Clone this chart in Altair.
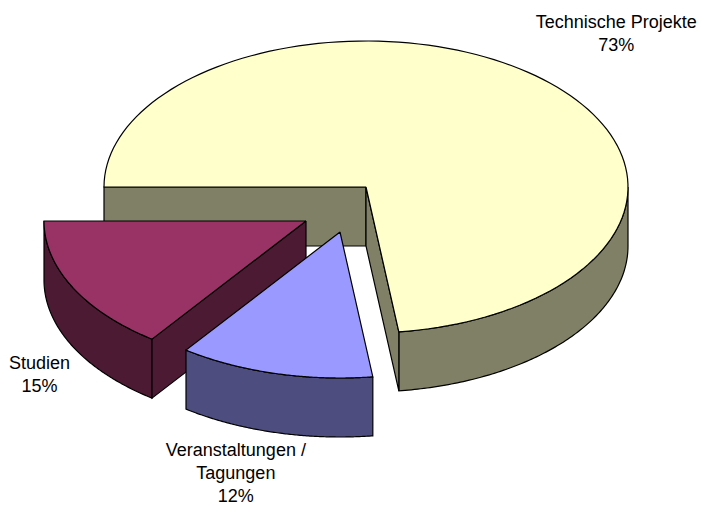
import math
import altair as alt
import numpy as np
import pandas as pd

# ---- data ----
categories = ["Technische Projekte", "Veranstaltungen /\nTagungen", "Studien"]
values = [73, 12, 15]

# ---- style / layout ----
W, H = 692, 502
CX, CY = 358, 179          # centre of the pie's top face
RX, RY = 262, 146          # ellipse semi-axes (tilted view)
DEPTH = 59                 # thickness of the pie
START_DEG = 270            # first slice starts at 9 o'clock, clockwise
TOP_COLORS = ["#FFFFCC", "#9999FF", "#993366"]
SIDE_COLORS = ["#808066", "#4D4D80", "#4D1A33"]
EXPLODE = [(0, 0), (-26, 45), (-60, 34)]
LABEL_SHIFT = [(77, -49), (-39, 83), (-33, 82)]
DRAW_ORDER = [0, 2, 1]
N_ARC = 120

total = float(sum(values))
bounds = []
acc = START_DEG
for v in values:
    span = v / total * 360.0
    bounds.append((acc, acc + span))
    acc += span


def rim(deg, ox, oy, dy=0.0):
    r = math.radians(deg)
    return (CX + ox + RX * math.sin(r), CY + oy - RY * math.cos(r) + dy)


def arc(a0, a1, ox, oy, dy=0.0):
    return [rim(d, ox, oy, dy) for d in np.linspace(a0, a1, N_ARC)]


rows = []
pid = 0
poly_fill = []


def add_poly(pts, fill):
    global pid
    pts = list(pts) + [pts[0]]
    for i, (x, y) in enumerate(pts):
        rows.append({"poly": pid, "i": i, "x": x, "y": y})
    poly_fill.append(fill)
    pid += 1


labels = []
for k in DRAW_ORDER:
    s, e = bounds[k]
    ox, oy = EXPLODE[k]
    apex = (CX + ox, CY + oy)
    apex_d = (CX + ox, CY + oy + DEPTH)
    # visible outer wall (front half of the ellipse)
    for base in (0, 360):
        lo, hi = max(s, base + 90), min(e, base + 270)
        if hi > lo:
            top = arc(lo, hi, ox, oy)
            bot = arc(lo, hi, ox, oy, DEPTH)[::-1]
            add_poly(top + bot, SIDE_COLORS[k])
    # cut faces, if facing the viewer
    if math.cos(math.radians(s - 90)) < 0:
        add_poly([apex, rim(s, ox, oy), rim(s, ox, oy, DEPTH), apex_d], SIDE_COLORS[k])
    if math.cos(math.radians(e + 90)) < 0:
        add_poly([apex, rim(e, ox, oy), rim(e, ox, oy, DEPTH), apex_d], SIDE_COLORS[k])
    # top face
    add_poly([apex] + arc(s, e, ox, oy), TOP_COLORS[k])

for k in range(len(values)):
    s, e = bounds[k]
    ox, oy = EXPLODE[k]
    bx, by = rim((s + e) / 2, ox, oy)
    labels.append({"x": bx + LABEL_SHIFT[k][0], "y": by + LABEL_SHIFT[k][1],
                   "label": f"{categories[k]}\n{values[k]}%"})

df = pd.DataFrame(rows)
lab = pd.DataFrame(labels)

xs = alt.Scale(domain=[0, W], nice=False, zero=False)
ys = alt.Scale(domain=[0, H], nice=False, zero=False, reverse=True)

layers = []
for p in range(pid):
    layers.append(
        alt.Chart(df)
        .transform_filter(alt.datum.poly == p)
        .mark_line(fill=poly_fill[p], stroke="black", strokeWidth=1.2, strokeJoin="miter")
        .encode(
            x=alt.X("x:Q", scale=xs, axis=None),
            y=alt.Y("y:Q", scale=ys, axis=None),
            order=alt.Order("i:Q"),
        )
    )

text = alt.Chart(lab).mark_text(
    font="Liberation Sans", fontSize=18, lineBreak="\n", lineHeight=23,
    align="center", baseline="alphabetic", color="black"
).encode(
    x=alt.X("x:Q", scale=xs, axis=None),
    y=alt.Y("y:Q", scale=ys, axis=None),
    text="label:N",
)

chart = alt.layer(*layers, text).properties(
    width=W, height=H, padding=0, autosize="none"
).configure_view(stroke=None)

chart.save("out.html", embed_options={"renderer": "svg", "actions": False})
